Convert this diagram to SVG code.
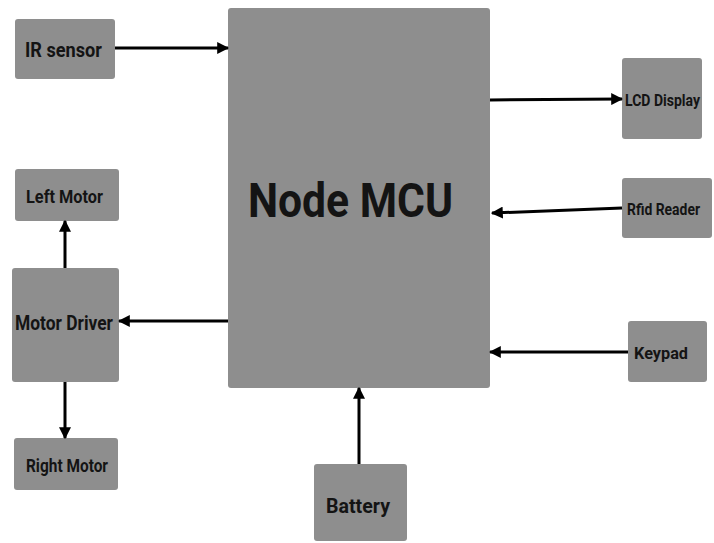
<svg xmlns="http://www.w3.org/2000/svg" width="714" height="543" viewBox="0 0 714 543">
<style>
.box{fill:#8e8e8e;}
.lbl{font-family:Roboto,"Liberation Sans",sans-serif;font-weight:bold;fill:#141414;}
.con{stroke:#000;stroke-width:3;fill:none;marker-end:url(#ah);}
</style>
<defs>
<marker id="ah" viewBox="0 0 10 10" refX="9" refY="5" markerWidth="4" markerHeight="4" orient="auto" markerUnits="strokeWidth">
<path d="M0,0 L10,5 L0,10 z" fill="#000"/>
</marker>
</defs>
<rect width="714" height="543" fill="#fff"/>
<g id="node-mcu"><rect class="box" x="228" y="8" width="262" height="380" rx="3"/>
<text class="lbl" x="248" y="217" font-size="49" textLength="205" lengthAdjust="spacingAndGlyphs">Node MCU</text></g>
<g id="ir-sensor"><rect class="box" x="15" y="19" width="100" height="60" rx="3"/>
<text class="lbl" x="25" y="57" font-size="21" textLength="77" lengthAdjust="spacingAndGlyphs">IR sensor</text></g>
<g id="left-motor"><rect class="box" x="15" y="169" width="104" height="52" rx="3"/>
<text class="lbl" x="26" y="203" font-size="19" textLength="77" lengthAdjust="spacingAndGlyphs">Left Motor</text></g>
<g id="motor-driver"><rect class="box" x="12" y="268" width="107" height="114" rx="3"/>
<text class="lbl" x="15" y="330" font-size="20" textLength="98" lengthAdjust="spacingAndGlyphs">Motor Driver</text></g>
<g id="right-motor"><rect class="box" x="14" y="438" width="104" height="52" rx="3"/>
<text class="lbl" x="26" y="472" font-size="19" textLength="82" lengthAdjust="spacingAndGlyphs">Right Motor</text></g>
<g id="lcd-display"><rect class="box" x="622" y="58" width="80" height="81" rx="3"/>
<text class="lbl" x="625" y="105.5" font-size="16" textLength="75" lengthAdjust="spacingAndGlyphs">LCD Display</text></g>
<g id="rfid-reader"><rect class="box" x="622" y="178" width="90" height="60" rx="3"/>
<text class="lbl" x="627" y="214.5" font-size="16" textLength="73" lengthAdjust="spacingAndGlyphs">Rfid Reader</text></g>
<g id="keypad"><rect class="box" x="628" y="321" width="79" height="61" rx="3"/>
<text class="lbl" x="634" y="359" font-size="17" textLength="54" lengthAdjust="spacingAndGlyphs">Keypad</text></g>
<g id="battery"><rect class="box" x="314" y="464" width="93" height="77" rx="3"/>
<text class="lbl" x="326" y="513" font-size="20" textLength="64" lengthAdjust="spacingAndGlyphs">Battery</text></g>
<g id="connectors">
<line class="con" x1="115" y1="48" x2="228" y2="48"/>
<line class="con" x1="65" y1="268" x2="65" y2="221"/>
<line class="con" x1="228" y1="321" x2="119" y2="321"/>
<line class="con" x1="65" y1="382" x2="65" y2="438"/>
<line class="con" x1="490" y1="100" x2="622" y2="99"/>
<line class="con" x1="622" y1="208" x2="492" y2="213"/>
<line class="con" x1="628" y1="352" x2="490" y2="352"/>
<line class="con" x1="359" y1="464" x2="359" y2="388"/>
</g>
</svg>
